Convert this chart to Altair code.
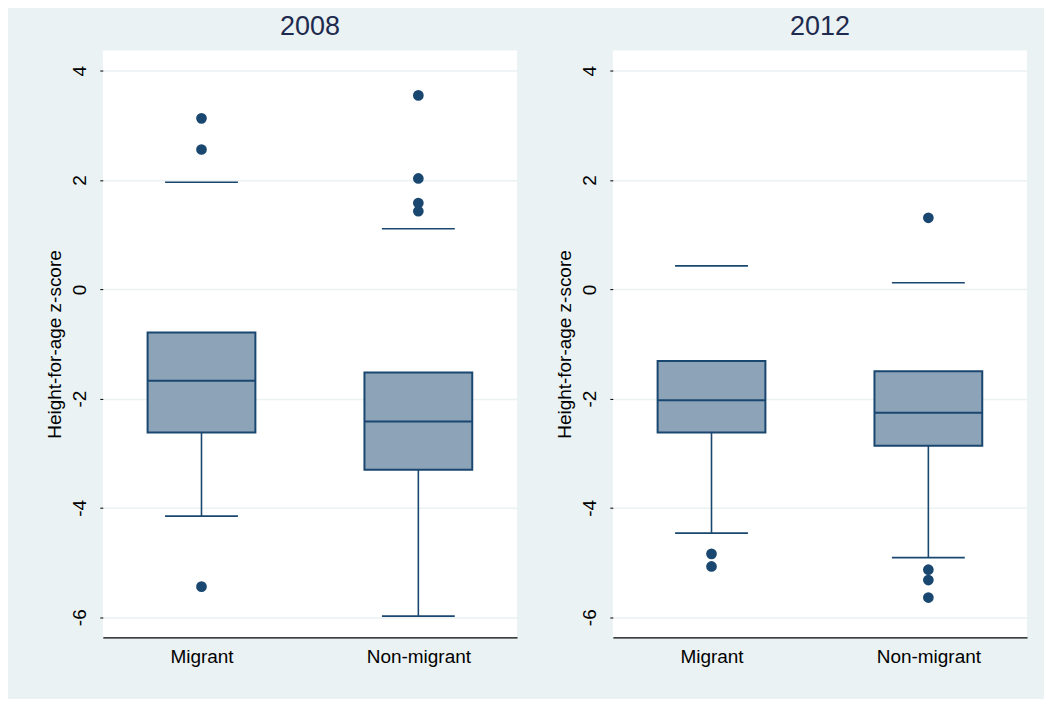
import altair as alt
import pandas as pd

# ---- data ----
years = ["2008", "2012"]
groups = ["Migrant", "Non-migrant"]

# per year, per group (Migrant, Non-migrant)
q1_2008 = [-2.62, -3.30]
median_2008 = [-1.67, -2.42]
q3_2008 = [-0.79, -1.52]
lower_adj_2008 = [-4.15, -5.98]
upper_adj_2008 = [1.96, 1.11]

q1_2012 = [-2.62, -2.86]
median_2012 = [-2.03, -2.26]
q3_2012 = [-1.31, -1.50]
lower_adj_2012 = [-4.46, -4.91]
upper_adj_2012 = [0.43, 0.12]

out_year = ["2008", "2008", "2008", "2008", "2008", "2008", "2008",
            "2012", "2012", "2012", "2012", "2012", "2012"]
out_group = ["Migrant", "Migrant", "Migrant",
             "Non-migrant", "Non-migrant", "Non-migrant", "Non-migrant",
             "Migrant", "Migrant",
             "Non-migrant", "Non-migrant", "Non-migrant", "Non-migrant"]
out_value = [3.13, 2.56, -5.44,
             3.55, 2.03, 1.58, 1.43,
             -4.84, -5.07,
             1.31, -5.13, -5.32, -5.64]

y_ticks = [-6, -4, -2, 0, 2, 4]
y_title = "Height-for-age z-score"

# ---- tables ----
summ = {
    "2008": (q1_2008, median_2008, q3_2008, lower_adj_2008, upper_adj_2008),
    "2012": (q1_2012, median_2012, q3_2012, lower_adj_2012, upper_adj_2012),
}
rows = []
for yr in years:
    q1, md, q3, lo, hi = summ[yr]
    for i, g in enumerate(groups):
        rows.append(dict(year=yr, group=g, q1=q1[i], median=md[i], q3=q3[i], lower=lo[i], upper=hi[i]))
box_df = pd.DataFrame(rows)
out_df = pd.DataFrame(dict(year=out_year, group=out_group, value=out_value))

NAVY = "#1a476f"
FILL = "#8ca3b8"
BG = "#eaf2f3"
FONT = "Liberation Sans"

yscale = alt.Scale(domain=[-6.37, 4.37], nice=False, zero=False)
xscale = alt.Scale(type="point", padding=0.455, domain=groups)

yaxis = alt.Axis(title=y_title, values=y_ticks, labelAngle=270, labelAlign="center",
                 labelBaseline="bottom", labelFontSize=19, labelFont=FONT, labelColor="#000000",
                 titleFont=FONT, titleFontSize=19, titleFontWeight="normal", titleColor="#000000",
                 titlePadding=6, labelPadding=10, tickSize=3, tickColor="#000000", tickWidth=1,
                 domain=False, grid=True, gridColor=BG, gridWidth=1.5,
                 labelExpr="toString(datum.value)")
xaxis = alt.Axis(title=None, labelAngle=0, labelFontSize=19, labelFont=FONT, labelColor="#000000",
                 ticks=False, labelPadding=10, domain=True, domainColor="#000000", domainWidth=1.2,
                 grid=False)


def X():
    return alt.X("group:N", scale=xscale, axis=xaxis)


def Y(field):
    return alt.Y(f"{field}:Q", scale=yscale, axis=yaxis)


def panel(yr):
    b = alt.Chart(box_df).transform_filter(alt.datum.year == yr)
    o = alt.Chart(out_df).transform_filter(alt.datum.year == yr)
    whisk = b.mark_rule(color=NAVY, strokeWidth=1.6).encode(x=X(), y=Y("lower"), y2="q1:Q")
    box = b.mark_bar(size=108, fill=FILL, stroke=NAVY, strokeWidth=2).encode(
        x=X(), y=Y("q3"), y2="q1:Q")
    med = b.mark_tick(size=108, thickness=2, color=NAVY, opacity=1).encode(x=X(), y=Y("median"))
    lcap = b.mark_tick(size=73, thickness=1.6, color=NAVY, opacity=1).encode(x=X(), y=Y("lower"))
    ucap = b.mark_tick(size=73, thickness=1.6, color=NAVY, opacity=1).encode(x=X(), y=Y("upper"))
    pts = o.mark_circle(size=115, color=NAVY, opacity=1).encode(x=X(), y=Y("value"))
    return alt.layer(whisk, box, med, lcap, ucap, pts).properties(
        width=415, height=588,
        title=alt.TitleParams(yr, fontSize=27, font=FONT, fontWeight="normal",
                              color="#1e2a4e", anchor="middle", offset=10),
    )


chart = alt.hconcat(panel("2008"), panel("2012"), spacing=39).properties(
    background=BG,
    padding={"left": 38, "top": 4, "right": 17, "bottom": 32},
).configure_view(fill="white", stroke=None)

chart.save("out.html", embed_options={"renderer": "svg", "actions": False})
